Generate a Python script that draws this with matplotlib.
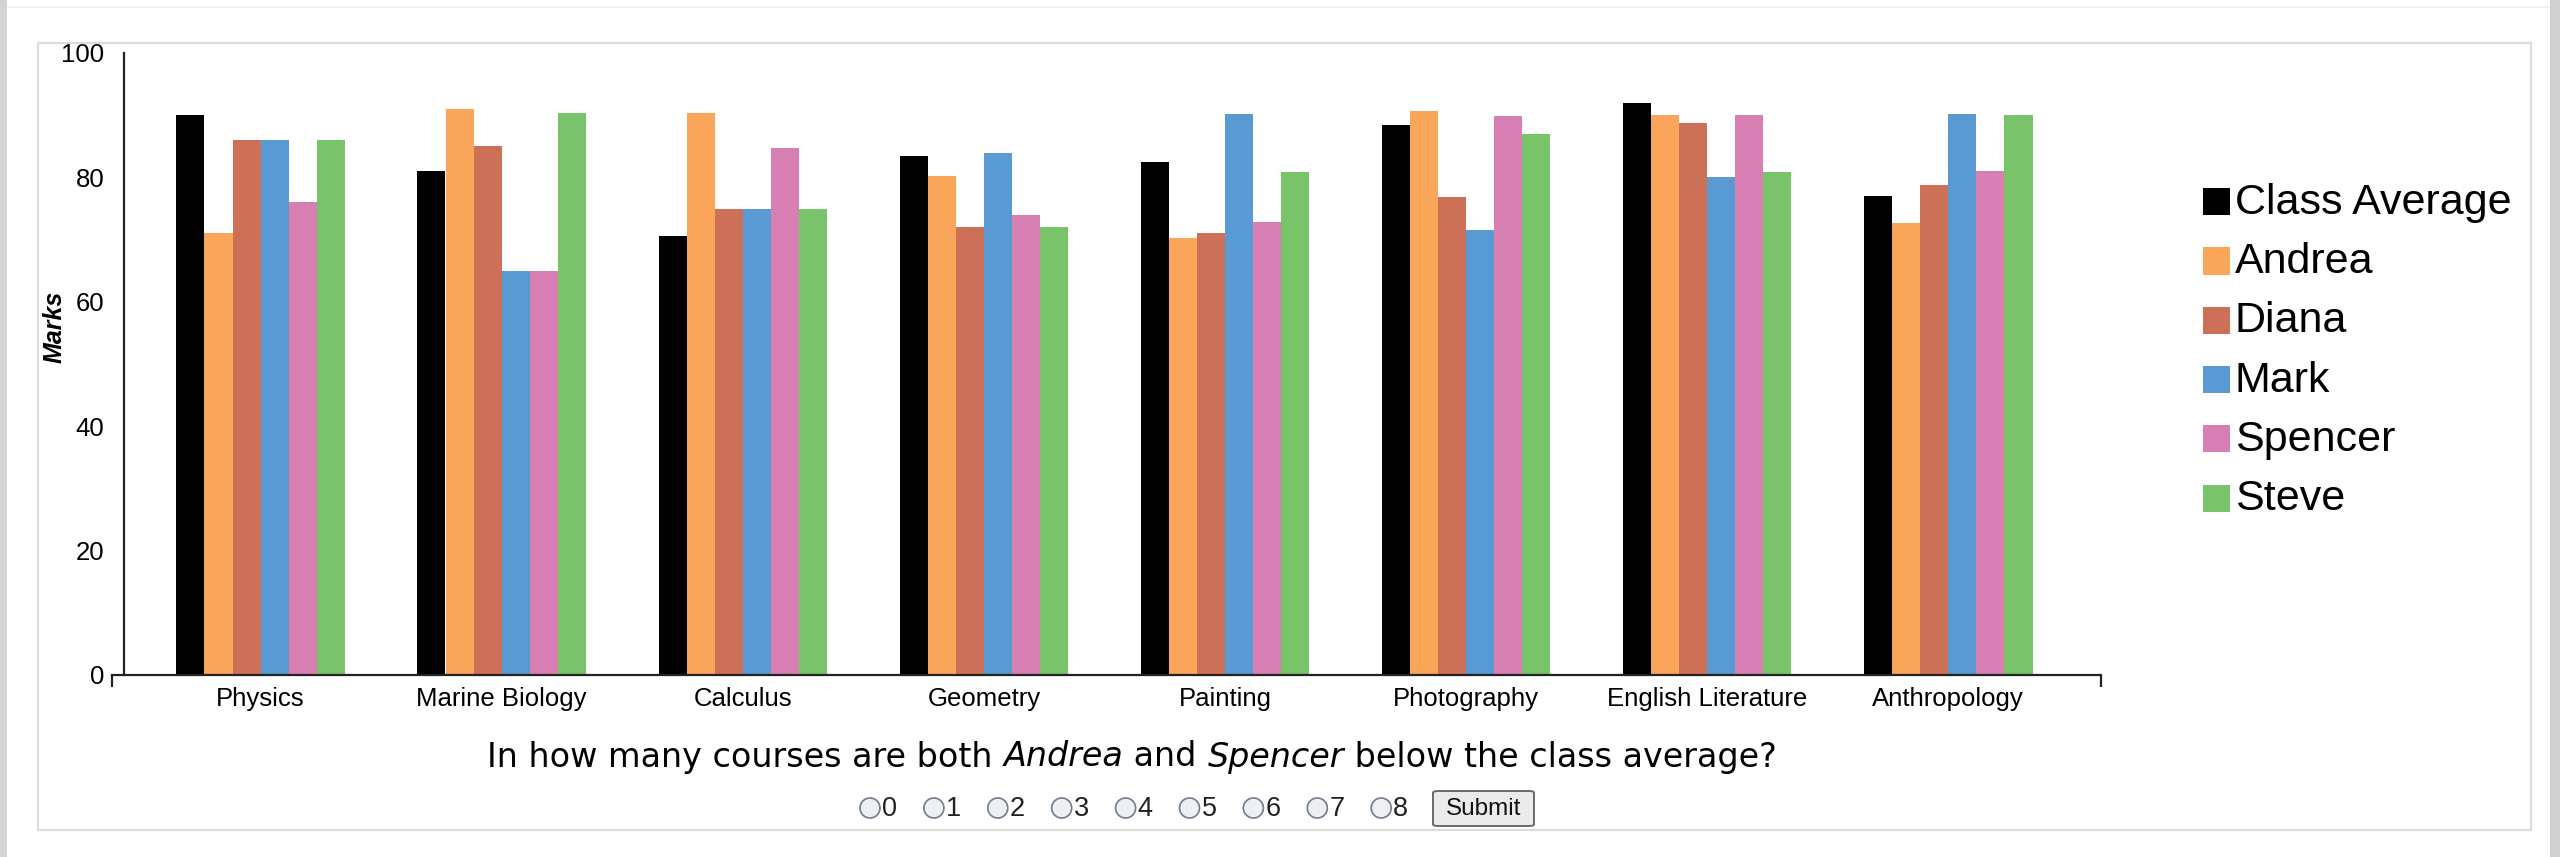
import numpy as np
import matplotlib.pyplot as plt
from matplotlib.patches import Rectangle, Ellipse, FancyBboxPatch

# data
courses = ['Physics', 'Marine Biology', 'Calculus', 'Geometry', 'Painting',
           'Photography', 'English Literature', 'Anthropology']
names = ['Class Average', 'Andrea', 'Diana', 'Mark', 'Spencer', 'Steve']
class_average = [90, 81, 70.6, 83.4, 82.4, 88.4, 92, 77]
andrea = [71, 91, 90.3, 80.2, 70.2, 90.6, 90, 72.6]
diana = [86, 85, 75, 72, 71, 76.8, 88.8, 78.8]
mark = [86, 65, 75, 84, 90.2, 71.6, 80, 90.2]
spencer = [76, 65, 84.8, 74, 72.8, 89.9, 90, 81]
steve = [86, 90.3, 75, 72, 80.8, 86.9, 80.8, 90]
colors = ['#000000', '#F9A65A', '#CD7058', '#599AD3', '#D77FB3', '#79C36A']
y_ticks = [0, 20, 40, 60, 80, 100]
answers = ['0', '1', '2', '3', '4', '5', '6', '7', '8']
question = [('In how many courses are both ', 'normal'), ('Andrea', 'italic'),
            (' and ', 'normal'), ('Spencer', 'italic'),
            (' below the class average?', 'normal')]

series = [class_average, andrea, diana, mark, spencer, steve]

W, H = 2569, 857
fig = plt.figure(figsize=(W / 100, H / 100), dpi=100)
fig.patch.set_facecolor('white')


def fx(px):
    return px / W


def fy(py):
    return 1 - py / H


# page edges and the light frame round the widget
fig.add_artist(Rectangle((0, 0), fx(7), 1, transform=fig.transFigure,
                         color='#D4D4D4', lw=0))
fig.add_artist(Rectangle((fx(2550), 0), fx(10), 1, transform=fig.transFigure,
                         color='#D0D0D0', lw=0))
fig.add_artist(Rectangle((fx(7), fy(8)), fx(2543), 2 / H,
                         transform=fig.transFigure, color='#F2F2F2', lw=0))
fig.add_artist(Rectangle((fx(38), fy(830)), fx(2531 - 38), (830 - 43) / H,
                         transform=fig.transFigure, fill=False,
                         edgecolor='#DCDCDC', lw=1.6))

# axes: pixel box of the plot area in the reference
left_px, right_px, top_px, zero_px = 112, 2101, 53, 675
ax = fig.add_axes([fx(left_px), fy(zero_px), fx(right_px - left_px),
                   (zero_px - top_px) / H])

pitch = 241.1
x0 = (left_px - 260.6) / pitch
x1 = (right_px - 260.6) / pitch
bw = 28.1 / pitch

x = np.arange(len(courses))
for j, vals in enumerate(series):
    ax.bar(x + (j - 2.5) * bw, vals, width=bw, color=colors[j], lw=0,
           label=names[j])

ax.set_xlim(x0, x1)
ax.set_ylim(0, 100)

for s in ['top', 'right']:
    ax.spines[s].set_visible(False)
ax.spines['left'].set_position(('data', x0 + 12 / pitch))
for s in ['left', 'bottom']:
    ax.spines[s].set_linewidth(1.6)
    ax.spines[s].set_color('#222222')

ax.set_xticks(x)
ax.set_xticklabels(courses, fontsize=18.5, family='Liberation Sans')
ax.set_yticks(y_ticks)
ax.set_yticklabels([str(v) for v in y_ticks], fontsize=18.5,
                   family='Liberation Sans')
ax.tick_params(axis='x', length=0, pad=8.5)
ax.tick_params(axis='y', length=0, pad=14)
# outer ticks at the ends of the axes
ax.set_yticks([0, 100], minor=True)
ax.set_xticks([x0, x1], minor=True)
ax.tick_params(which='minor', length=8.6, width=1.6, color='#222222',
               direction='out')

ax.text(-0.029, 0.56, 'Marks', transform=ax.transAxes, rotation=90,
        ha='center', va='center', fontsize=18, fontweight='bold',
        fontstyle='italic', family='Liberation Sans')

# legend drawn by hand to sit like the reference
for j, name in enumerate(names):
    cy = 201.7 + 59.3 * j
    fig.add_artist(Rectangle((fx(2203), fy(cy + 13.5)), fx(27), 27 / H,
                             transform=fig.transFigure, color=colors[j], lw=0))
    fig.text(fx(2235), fy(cy + 1), name, fontsize=31, family='Liberation Sans',
             ha='left', va='center')

# question with italic names
renderer = fig.canvas.get_renderer()
parts = []
for txt, style in question:
    t = fig.text(0, fy(757), txt, fontsize=24, family='DejaVu Sans',
                 fontstyle=style, ha='left', va='center')
    parts.append(t)
widths = [t.get_window_extent(renderer).width for t in parts]
cur = 1132 - sum(widths) / 2
for t, w in zip(parts, widths):
    t.set_x(fx(cur))
    cur += w

# radio buttons and submit
for i, a in enumerate(answers):
    cx = 870 + 63.9 * i
    fig.add_artist(Ellipse((fx(cx), fy(808)), fx(20), 20 / H,
                           transform=fig.transFigure, facecolor='#EEF1F4',
                           edgecolor='#6E7C8C', lw=1.2))
    fig.text(fx(cx + 12), fy(809), a, fontsize=19.5, family='Liberation Sans',
             ha='left', va='center', color='#222222')

fig.add_artist(FancyBboxPatch((fx(1433), fy(826)), fx(101), 35 / H,
                              boxstyle='round,pad=0,rounding_size=0.002',
                              transform=fig.transFigure, facecolor='#EBEBEB',
                              edgecolor='#6A6A6A', lw=1.4))
fig.text(fx(1483.5), fy(809), 'Submit', fontsize=17.5, family='Liberation Sans',
         ha='center', va='center', color='#111111')

fig.savefig('out.png', dpi=100)
